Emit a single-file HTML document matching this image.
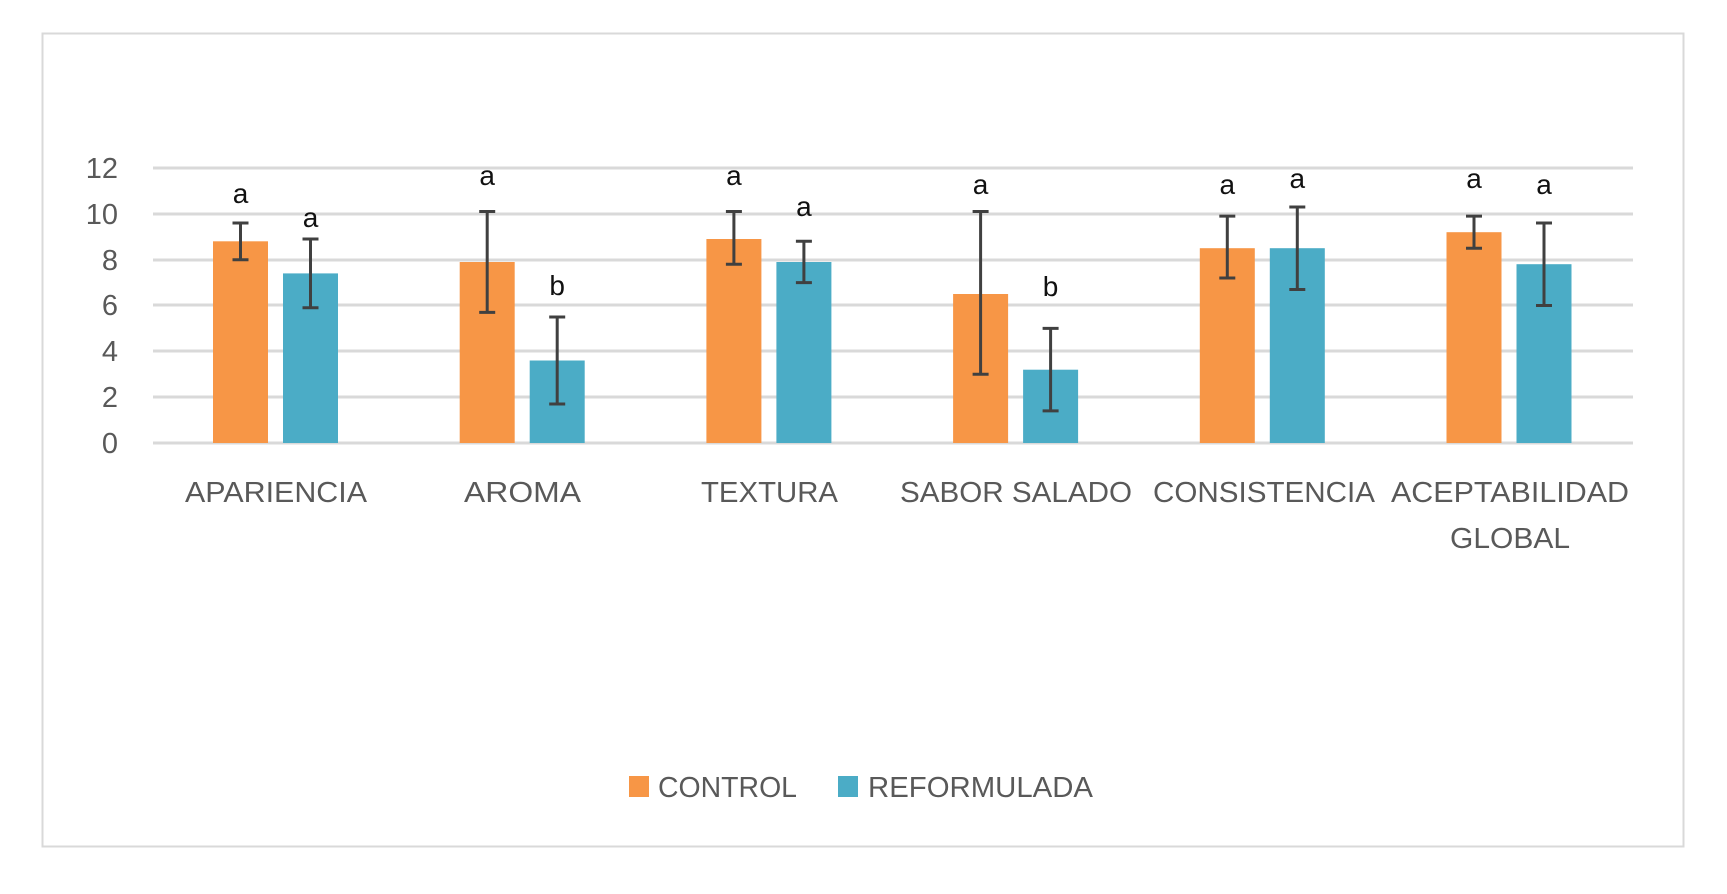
<!DOCTYPE html>
<html><head><meta charset="utf-8"><style>html,body{margin:0;padding:0;background:#fff}svg{display:block}</style></head>
<body>
<svg width="1727" height="894" viewBox="0 0 1727 894" xmlns="http://www.w3.org/2000/svg" font-family="Liberation Sans, sans-serif">
<rect x="42.5" y="33.5" width="1641" height="813" fill="#fff" stroke="#d9d9d9" stroke-width="2"/>
<g stroke="#d9d9d9" stroke-width="3">
<line x1="153" x2="1633" y1="168" y2="168"/><line x1="153" x2="1633" y1="214" y2="214"/><line x1="153" x2="1633" y1="260" y2="260"/><line x1="153" x2="1633" y1="305" y2="305"/><line x1="153" x2="1633" y1="351" y2="351"/><line x1="153" x2="1633" y1="397" y2="397"/><line x1="153" x2="1633" y1="443" y2="443"/>
</g>
<g fill="#595959" font-size="29" text-anchor="end">
<text x="118" y="178">12</text><text x="118" y="224">10</text><text x="118" y="270">8</text><text x="118" y="315">6</text><text x="118" y="361">4</text><text x="118" y="407">2</text><text x="118" y="453">0</text>
</g>
<g>
<rect x="213" y="241.3" width="55" height="201.7" fill="#f79646"/>
<rect x="283" y="273.4" width="55" height="169.6" fill="#4bacc6"/>
<rect x="459.7" y="262" width="55" height="181" fill="#f79646"/>
<rect x="529.7" y="360.5" width="55" height="82.5" fill="#4bacc6"/>
<rect x="706.4" y="239" width="55" height="204" fill="#f79646"/>
<rect x="776.4" y="262" width="55" height="181" fill="#4bacc6"/>
<rect x="953.1" y="294" width="55" height="149" fill="#f79646"/>
<rect x="1023.1" y="369.7" width="55" height="73.3" fill="#4bacc6"/>
<rect x="1199.8" y="248.2" width="55" height="194.8" fill="#f79646"/>
<rect x="1269.8" y="248.2" width="55" height="194.8" fill="#4bacc6"/>
<rect x="1446.5" y="232.2" width="55" height="210.8" fill="#f79646"/>
<rect x="1516.5" y="264.2" width="55" height="178.8" fill="#4bacc6"/>
</g>
<g stroke="#404040" stroke-width="3" fill="none">
<path d="M240.5 223V259.7M232.5 223H248.5M232.5 259.7H248.5"/>
<path d="M310.5 239V307.8M302.5 239H318.5M302.5 307.8H318.5"/>
<path d="M487.2 211.5V312.4M479.2 211.5H495.2M479.2 312.4H495.2"/>
<path d="M557.2 317V404M549.2 317H565.2M549.2 404H565.2"/>
<path d="M733.9 211.5V264.2M725.9 211.5H741.9M725.9 264.2H741.9"/>
<path d="M803.9 241.3V282.6M795.9 241.3H811.9M795.9 282.6H811.9"/>
<path d="M980.6 211.5V374.2M972.6 211.5H988.6M972.6 374.2H988.6"/>
<path d="M1050.6 328.4V410.9M1042.6 328.4H1058.6M1042.6 410.9H1058.6"/>
<path d="M1227.3 216.1V278M1219.3 216.1H1235.3M1219.3 278H1235.3"/>
<path d="M1297.3 207V289.5M1289.3 207H1305.3M1289.3 289.5H1305.3"/>
<path d="M1474 216.1V248.2M1466 216.1H1482M1466 248.2H1482"/>
<path d="M1544 223V305.5M1536 223H1552M1536 305.5H1552"/>
</g>
<g font-size="28" fill="#111" text-anchor="middle">
<text x="240.5" y="203">a</text><text x="310.5" y="227">a</text>
<text x="487.2" y="185">a</text><text x="557.2" y="295">b</text>
<text x="733.9" y="185">a</text><text x="803.9" y="216">a</text>
<text x="980.6" y="194">a</text><text x="1050.6" y="296">b</text>
<text x="1227.3" y="194">a</text><text x="1297.3" y="188">a</text>
<text x="1474" y="188">a</text><text x="1544" y="194">a</text>
</g>
<g fill="#595959" font-size="29">
<text x="185" y="502" textLength="182" lengthAdjust="spacingAndGlyphs">APARIENCIA</text>
<text x="464" y="502" textLength="117" lengthAdjust="spacingAndGlyphs">AROMA</text>
<text x="701" y="502" textLength="137" lengthAdjust="spacingAndGlyphs">TEXTURA</text>
<text x="900" y="502" textLength="232" lengthAdjust="spacingAndGlyphs">SABOR SALADO</text>
<text x="1153" y="502" textLength="222" lengthAdjust="spacingAndGlyphs">CONSISTENCIA</text>
<text x="1391" y="502" textLength="238" lengthAdjust="spacingAndGlyphs">ACEPTABILIDAD</text>
<text x="1450" y="548" textLength="120" lengthAdjust="spacingAndGlyphs">GLOBAL</text>
</g>
<rect x="629" y="776" width="20" height="21" fill="#f79646"/>
<text x="658" y="797" font-size="29" fill="#595959" textLength="139" lengthAdjust="spacingAndGlyphs">CONTROL</text>
<rect x="838" y="776" width="20" height="21" fill="#4bacc6"/>
<text x="868" y="797" font-size="29" fill="#595959" textLength="225" lengthAdjust="spacingAndGlyphs">REFORMULADA</text>
</svg>
</body></html>
